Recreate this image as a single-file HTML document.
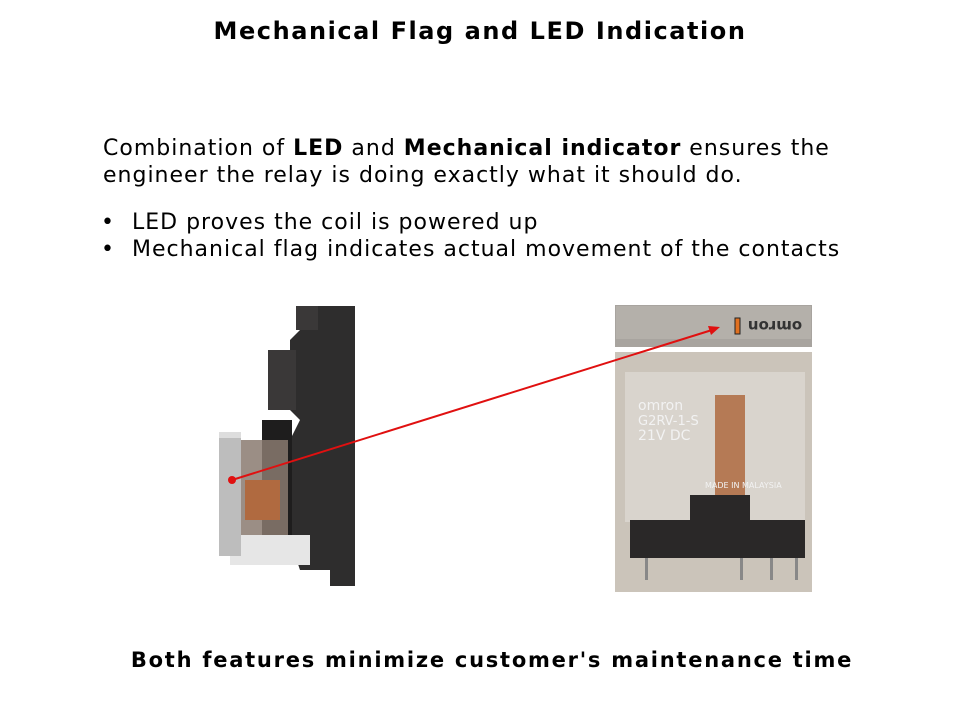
<!DOCTYPE html>
<html><head><meta charset="utf-8"><style>
body{margin:0;width:960px;height:720px;background:#fff;position:relative;font-family:"DejaVu Sans","Liberation Sans",sans-serif;overflow:hidden}
.t{position:absolute;left:0;width:960px;text-align:center;font-weight:bold;font-size:24px;letter-spacing:1.55px;color:#000}
.p{position:absolute;left:103px;color:#000;line-height:27px;font-size:22px;letter-spacing:1.0px;white-space:nowrap}
</style></head><body>
<div class="t" style="top:17px">Mechanical Flag and LED Indication</div>
<div class="p" style="top:135px">Combination of <b>LED</b> and <b>Mechanical indicator</b> ensures the<br>engineer the relay is doing exactly what it should do.</div>
<div class="p" style="top:209px;left:101px">•<br>•</div>
<div class="p" style="top:209px;left:132px">LED proves the coil is powered up<br>Mechanical flag indicates actual movement of the contacts</div>
<svg style="position:absolute;left:0;top:0" width="960" height="720">
<polygon points="300,306 355,306 355,586 330,586 330,570 300,570 290,540 290,440 300,420 290,410 290,340 300,330" fill="#2e2d2d"/>
<rect x="296" y="306" width="22" height="24" fill="#3a3838"/>
<rect x="268" y="350" width="28" height="60" fill="#3a3838"/>
<rect x="262" y="420" width="30" height="130" fill="#1e1d1d"/>
<rect x="226" y="440" width="62" height="100" fill="#8a7a70" opacity="0.85"/>
<rect x="245" y="480" width="35" height="40" fill="#b06a40"/>
<rect x="230" y="535" width="80" height="30" fill="#e6e6e6"/>
<rect x="219" y="432" width="22" height="124" fill="#bdbdbd"/>
<rect x="219" y="432" width="22" height="6" fill="#ddd"/>
<rect x="615" y="305" width="197" height="42" fill="#a8a49f"/>
<rect x="616" y="306" width="195" height="33" fill="#b4b0aa"/>
<rect x="735" y="318" width="5" height="16" fill="#e07020" stroke="#222" stroke-width="1"/>
<text x="775" y="333" font-size="15" font-weight="bold" fill="#333" text-anchor="middle" transform="rotate(180 775 327)">omron</text>
<rect x="615" y="352" width="197" height="240" fill="#cbc4ba"/>
<rect x="625" y="372" width="180" height="150" fill="#d9d4cd"/>
<rect x="715" y="395" width="30" height="130" fill="#b57a55"/>
<rect x="630" y="520" width="175" height="38" fill="#2a2828"/>
<rect x="690" y="495" width="60" height="30" fill="#2a2828"/>
<rect x="645" y="558" width="3" height="22" fill="#888"/><rect x="740" y="558" width="3" height="22" fill="#888"/><rect x="770" y="558" width="3" height="22" fill="#888"/><rect x="795" y="558" width="3" height="22" fill="#888"/>
<text x="638" y="410" font-size="14" fill="#f2f2f2">omron</text>
<text x="638" y="425" font-size="13" fill="#f2f2f2">G2RV-1-S</text>
<text x="638" y="440" font-size="14" fill="#f2f2f2">21V DC</text>
<text x="705" y="488" font-size="8" fill="#f2f2f2">MADE IN MALAYSIA</text>
<line x1="232" y1="480" x2="712" y2="330" stroke="#e01010" stroke-width="2"/>
<polygon points="720,327 708,326 711,335" fill="#e01010"/>
<circle cx="232" cy="480" r="4" fill="#e01010"/>
</svg>
<div class="t" style="top:648px;left:12px;font-size:21px;letter-spacing:1.75px">Both features minimize customer's maintenance time</div>
</body></html>
